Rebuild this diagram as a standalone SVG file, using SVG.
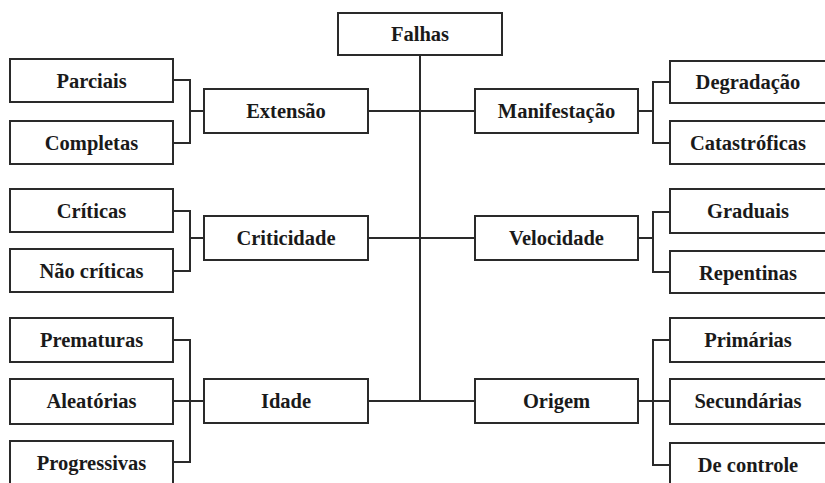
<svg xmlns="http://www.w3.org/2000/svg" width="825" height="483" viewBox="0 0 825 483">
<style>
rect{fill:#fff;stroke:#2a2a2a;stroke-width:2}
text{font-family:"Liberation Serif","Times New Roman",serif;font-weight:bold;font-size:20.5px;fill:#1a1a1a;text-anchor:middle}
.c path{fill:none;stroke:#2a2a2a;stroke-width:2}
</style>
<rect x="0" y="0" width="825" height="483" style="stroke:none;fill:#fff"/>
<g class="c" id="connectors">
<path d="M420 55V401"/>
<path d="M368 111H475M368 238H475M368 401H475"/>
<path d="M173 80H190V143H173M190 111H204"/>
<path d="M173 211H190V271H173M190 238H204"/>
<path d="M173 340H190V462H173M173 401H204"/>
<path d="M670 82H653V143H670M638 111H653"/>
<path d="M670 212H653V272H670M638 238H653"/>
<path d="M670 340H653V465H670M638 401H670"/>
</g>
<g id="falhas"><rect x="338" y="13" width="164" height="42"/><text x="420" y="41">Falhas</text></g>
<g id="extensao"><rect x="204" y="89" width="164" height="44"/><text x="286" y="118">Extensão</text></g>
<g id="parciais"><rect x="10" y="59" width="163" height="43"/><text x="91.5" y="88">Parciais</text></g>
<g id="completas"><rect x="10" y="121" width="163" height="43"/><text x="91.5" y="150">Completas</text></g>
<g id="criticidade"><rect x="204" y="216" width="164" height="44"/><text x="286" y="245">Criticidade</text></g>
<g id="criticas"><rect x="10" y="189" width="163" height="43"/><text x="91.5" y="218">Críticas</text></g>
<g id="naocriticas"><rect x="10" y="249" width="163" height="43"/><text x="91.5" y="278">Não críticas</text></g>
<g id="idade"><rect x="204" y="379" width="164" height="44"/><text x="286" y="408">Idade</text></g>
<g id="prematuras"><rect x="10" y="318" width="163" height="44"/><text x="91.5" y="347">Prematuras</text></g>
<g id="aleatorias"><rect x="10" y="379" width="163" height="45"/><text x="91.5" y="408">Aleatórias</text></g>
<g id="progressivas"><rect x="10" y="441" width="163" height="45"/><text x="91.5" y="470">Progressivas</text></g>
<g id="manifestacao"><rect x="475" y="89" width="163" height="44"/><text x="556.5" y="118">Manifestação</text></g>
<g id="degradacao"><rect x="670" y="61" width="163" height="42"/><text x="748" y="89">Degradação</text></g>
<g id="catastroficas"><rect x="670" y="121" width="163" height="43"/><text x="748" y="150">Catastróficas</text></g>
<g id="velocidade"><rect x="475" y="216" width="163" height="44"/><text x="556.5" y="245">Velocidade</text></g>
<g id="graduais"><rect x="670" y="189" width="163" height="44"/><text x="748" y="218">Graduais</text></g>
<g id="repentinas"><rect x="670" y="251" width="163" height="42"/><text x="748" y="280">Repentinas</text></g>
<g id="origem"><rect x="475" y="379" width="163" height="44"/><text x="556.5" y="408">Origem</text></g>
<g id="primarias"><rect x="670" y="318" width="163" height="44"/><text x="748" y="347">Primárias</text></g>
<g id="secundarias"><rect x="670" y="379" width="163" height="45"/><text x="748" y="408">Secundárias</text></g>
<g id="decontrole"><rect x="670" y="443" width="163" height="45"/><text x="748" y="472">De controle</text></g>
</svg>
